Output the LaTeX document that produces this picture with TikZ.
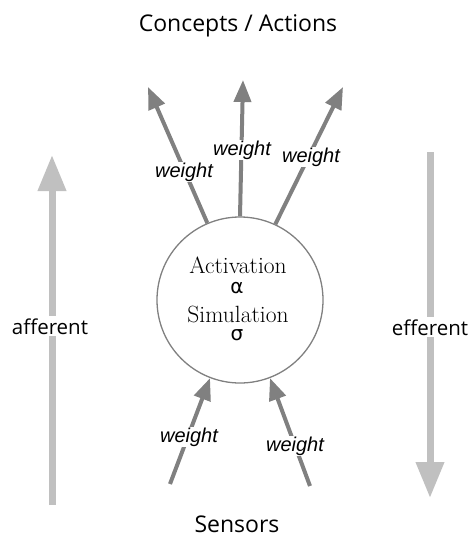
\documentclass[tikz,border=0pt]{standalone}
\usepackage{fontspec}
\usetikzlibrary{arrows.meta,positioning}
\newfontfamily\labelfont{Open Sans}
\newfontfamily\weightfont{Liberation Sans}
\newfontfamily\greekfont{DejaVu Sans}
\definecolor{linkgray}{HTML}{808080}
\definecolor{flowgray}{HTML}{C0C0C0}
\begin{document}
\begin{tikzpicture}[
    x=1pt, y=-1pt,
    cell/.style={
        circle,
        draw=linkgray,
        line width=1.3pt,
        minimum size=166pt,
        inner sep=0pt
    },
    link/.style={
        -{Triangle[length=22pt,width=17pt]},
        line width=4pt,
        linkgray
    },
    flow/.style={
        -{Triangle[length=36pt,width=27pt]},
        line width=7pt,
        flowgray
    },
    weight/.style={
        anchor=base,
        inner sep=1pt,
        fill=white,
        font=\weightfont\itshape\fontsize{20}{24}\selectfont
    },
    title/.style={
        anchor=base,
        font=\labelfont\fontsize{23}{28}\selectfont
    },
    side/.style={
        anchor=base,
        fill=white,
        inner sep=2pt,
        font=\labelfont\fontsize{20.5}{24}\selectfont
    },
    inside/.style={
        anchor=base,
        inner sep=0pt,
        font=\fontsize{23.5}{28}\selectfont
    },
    greek/.style={
        anchor=base,
        inner sep=0pt,
        font=\greekfont\fontsize{20}{24}\selectfont
    }
]
\useasboundingbox (0,0) rectangle (470,539);

% Titles
\node[title] (concepts) at (238,31) {Concepts / Actions};
\node[title] (sensors) at (237,532) {Sensors};

% Activation cell
\node[cell] (cell) at (240,300) {};
\node[inside] (act) at (238,273) {Activation};
\node[greek] (alpha) at (237,293) {α};
\node[inside] (sim) at (238,322) {Simulation};
\node[greek] (sigma) at (237,340) {σ};

% Arrow ends
\coordinate (outl) at (148,87);
\coordinate (outm) at (243,80);
\coordinate (outr) at (343,87);
\coordinate (inl) at (170,484);
\coordinate (inr) at (310,486);
\coordinate (affb) at (52,505);
\coordinate (afft) at (52,155);
\coordinate (effb) at (430,498);
\coordinate (efft) at (430,152);

% Afferent / efferent flows
\draw[flow] (affb) -- (afft);
\draw[flow] (efft) -- (effb);
\node[side] (afferent) at (50,334) {afferent};
\node[side] (efferent) at (430,335) {efferent};

% Weighted links
\draw[link] (cell.113) -- (outl);
\draw[link] (cell.90) -- (outm);
\draw[link] (cell.65) -- (outr);
\draw[link] (inl) -- (cell.249);
\draw[link] (inr) -- (cell.291);
\node[weight] (wl) at (184,177) {weight};
\node[weight] (wm) at (242,155) {weight};
\node[weight] (wr) at (311,162) {weight};
\node[weight] (wbl) at (189,442) {weight};
\node[weight] (wbr) at (295,451) {weight};

\end{tikzpicture}
\end{document}
